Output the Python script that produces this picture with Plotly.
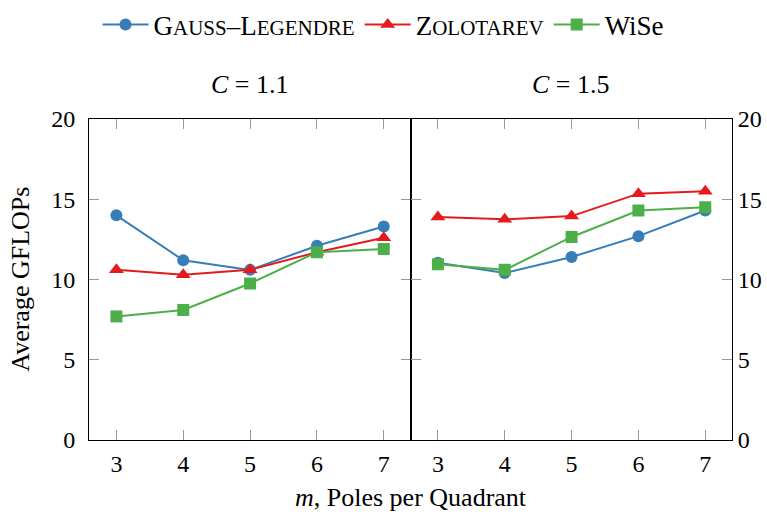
import plotly.graph_objects as go
from plotly.subplots import make_subplots

# Poles per quadrant
m = [3, 4, 5, 6, 7]

# Average GFLOPs, C = 1.1
gl_c11 = [14.0, 11.2, 10.6, 12.1, 13.3]
zo_c11 = [10.6, 10.3, 10.6, 11.7, 12.6]
ws_c11 = [7.7, 8.1, 9.75, 11.7, 11.9]

# Average GFLOPs, C = 1.5
gl_c15 = [11.05, 10.4, 11.4, 12.7, 14.3]
zo_c15 = [13.9, 13.75, 13.95, 15.35, 15.5]
ws_c15 = [10.95, 10.6, 12.65, 14.3, 14.5]

panel_titles = ["<i>C</i> = 1.1", "<i>C</i> = 1.5"]
y_ticks = [0, 5, 10, 15, 20]


def small_caps(word, size=21):
    # first letter full size, the rest as smaller capitals
    return word[0] + f"<span style='font-size:{size}px'>{word[1:].upper()}</span>"


series_names = [
    small_caps("Gauss") + "–" + small_caps("Legendre"),
    small_caps("Zolotarev"),
    "WiSe",
]
colors = ["#377eb8", "#e41a1c", "#4daf4a"]
symbols = ["circle", "triangle-up", "square"]

FONT = "Liberation Serif"
TXT = 26

fig = make_subplots(rows=1, cols=2, horizontal_spacing=0)

panels = [(gl_c11, zo_c11, ws_c11), (gl_c15, zo_c15, ws_c15)]
for col, data in enumerate(panels, start=1):
    for i, ys in enumerate(data):
        fig.add_trace(
            go.Scatter(
                x=m, y=ys, mode="lines+markers",
                name=series_names[i],
                legendgroup=str(i),
                showlegend=(col == 1),
                line=dict(color=colors[i], width=2),
                marker=dict(symbol=symbols[i], size=12 if i != 1 else 13,
                            color=colors[i]),
            ),
            row=1, col=col,
        )

axis_common = dict(
    showline=True, linecolor="black", linewidth=1, mirror="allticks",
    ticks="inside", tickcolor="#999999", ticklen=10, tickwidth=1,
    showgrid=False, zeroline=False, automargin=False,
    tickfont=dict(family=FONT, size=24, color="black"),
)

for col in (1, 2):
    fig.update_xaxes(range=[2.59, 7.4], tickvals=m, row=1, col=col,
                     ticklabelstandoff=2, **axis_common)
    fig.update_yaxes(range=[0, 20], tickvals=y_ticks, row=1, col=col,
                     **axis_common)

fig.update_yaxes(side="left", ticklabelstandoff=8, row=1, col=1)
fig.update_yaxes(side="right", ticklabelstandoff=0, row=1, col=2)

for k, txt in enumerate(panel_titles):
    fig.add_annotation(
        text=txt, xref="paper", yref="paper",
        x=0.25 + 0.5 * k, y=1.106, xanchor="center", yanchor="middle",
        showarrow=False, font=dict(family=FONT, size=TXT, color="black"),
    )

fig.add_annotation(
    text="<i>m</i>, Poles per Quadrant", xref="paper", yref="paper",
    x=0.5, y=-0.178, xanchor="center", yanchor="middle", showarrow=False,
    font=dict(family=FONT, size=TXT, color="black"),
)
fig.add_annotation(
    text="Average GFLOPs", xref="paper", yref="paper", textangle=-90,
    x=-0.107, y=0.5, xanchor="center", yanchor="middle", showarrow=False,
    font=dict(family=FONT, size=TXT, color="black"),
)

fig.update_layout(
    width=767, height=514,
    margin=dict(l=89, r=35, t=119, b=74),
    plot_bgcolor="white", paper_bgcolor="white",
    font=dict(family=FONT, size=TXT, color="black"),
    legend=dict(
        orientation="h", x=0.5, xanchor="center", xref="container",
        y=0.999, yanchor="top", yref="container",
        font=dict(family=FONT, size=27, color="black"),
        itemwidth=46, tracegroupgap=0,
    ),
)

fig.write_html("out.html")
